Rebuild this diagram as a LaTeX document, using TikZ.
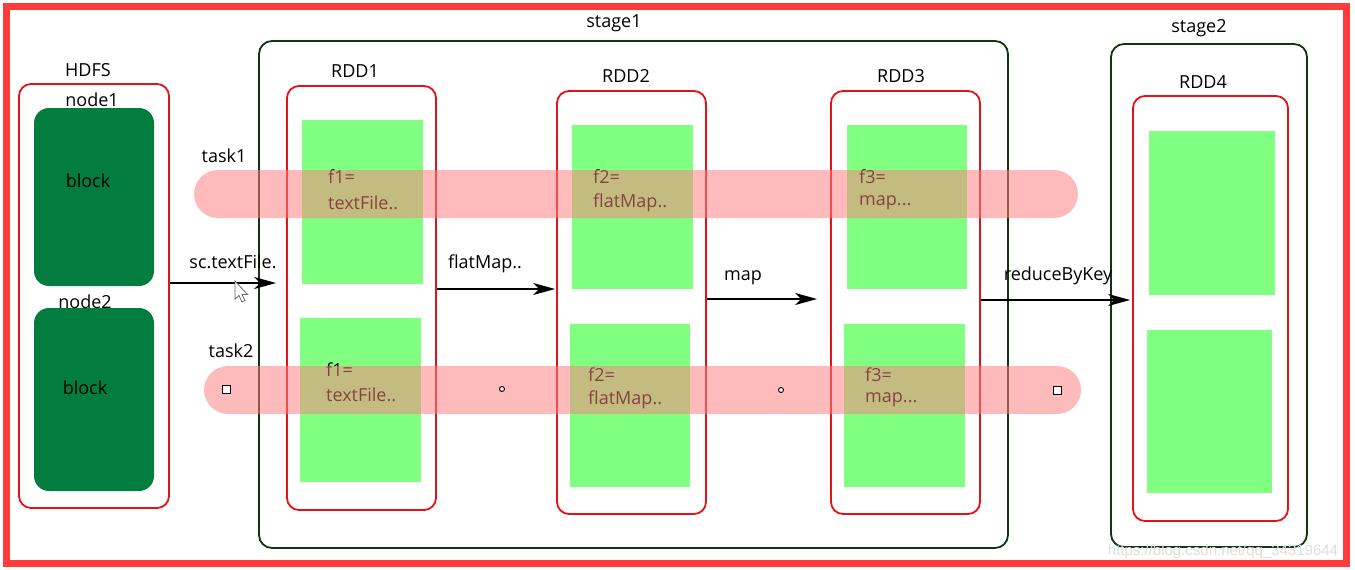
\documentclass[tikz,border=0pt]{standalone}
\usepackage{fontspec}
\setmainfont{Open Sans}
\newfontfamily\wmfont{Liberation Sans}
\usetikzlibrary{arrows.meta}
\definecolor{outred}{RGB}{255,59,59}
\definecolor{boxred}{RGB}{228,18,22}
\definecolor{stgreen}{RGB}{15,55,15}
\definecolor{blkgreen}{RGB}{3,125,63}
\definecolor{ltgreen}{RGB}{128,255,128}
\definecolor{pillred}{RGB}{255,128,128}
\newcommand\dgmfont{\fontsize{18}{22}\selectfont}
\begin{document}
\begin{tikzpicture}[x=1pt,y=-1pt,
  every node/.append style={font=\dgmfont},
  redbox/.style={draw=boxred, line width=1.8pt, rounded corners=12pt, inner sep=0pt},
  stagebox/.style={draw=stgreen, line width=1.8pt, rounded corners=13pt, inner sep=0pt},
  blockbox/.style={fill=blkgreen, rounded corners=15pt, inner sep=0pt},
  part/.style={fill=ltgreen, inner sep=0pt},
  pill/.style={fill=pillred, fill opacity=0.53, rounded corners=24pt, inner sep=0pt, minimum height=48pt},
  lbl/.style={inner sep=0pt},
  ptxt/.style={anchor=west, inner sep=0pt},
  arr/.style={-{Stealth[length=22pt,width=12pt,inset=6pt]}, line width=2pt},
  handle/.style={draw=black, fill=white, line width=0.9pt, inner sep=0pt}
]
\useasboundingbox[fill=white] (0,0) rectangle (1355,570);
\draw[outred, line width=7pt] (6.5,6.5) rectangle (1346.5,563.5);

% HDFS
\node[redbox, minimum width=150pt, minimum height=424pt] (hdfs) at (94,296) {};
\node[lbl] (hdfsl) at (88,70) {HDFS};
\node[lbl] (n1l) at (92,100) {node1};
\node[blockbox, minimum width=120pt, minimum height=178pt] (blk1) at (94,197) {};
\node[lbl] (b1l) at (88,181) {block};
\node[lbl] (n2l) at (85,302) {node2};
\node[blockbox, minimum width=120pt, minimum height=183pt] (blk2) at (94,399.5) {};
\node[lbl] (b2l) at (85,388) {block};

% stages
\node[stagebox, minimum width=749pt, minimum height=507pt] (stage1) at (633.5,294.5) {};
\node[lbl] (s1l) at (614,23) {stage1};
\node[stagebox, minimum width=196pt, minimum height=503pt] (stage2) at (1209,295.5) {};
\node[lbl] (s2l) at (1199,28) {stage2};

% RDDs
\node[redbox, minimum width=149pt, minimum height=424pt] (rdd1) at (361.5,298) {};
\node[lbl] (r1l) at (355,71) {RDD1};
\node[redbox, minimum width=149pt, minimum height=423pt] (rdd2) at (631.5,302.5) {};
\node[lbl] (r2l) at (626,76) {RDD2};
\node[redbox, minimum width=149pt, minimum height=423pt] (rdd3) at (905.5,302.5) {};
\node[lbl] (r3l) at (901,76) {RDD3};
\node[redbox, minimum width=155pt, minimum height=425pt] (rdd4) at (1210.5,308.5) {};
\node[lbl] (r4l) at (1203,82) {RDD4};

% partitions
\node[part, minimum width=121pt, minimum height=164pt] (g1a) at (362.5,202) {};
\node[part, minimum width=121pt, minimum height=164pt] (g1b) at (360.5,400) {};
\node[part, minimum width=121pt, minimum height=164pt] (g2a) at (632.5,207) {};
\node[part, minimum width=120pt, minimum height=163pt] (g2b) at (630,405.5) {};
\node[part, minimum width=120pt, minimum height=164pt] (g3a) at (907,207) {};
\node[part, minimum width=121pt, minimum height=163pt] (g3b) at (904.5,405.5) {};
\node[part, minimum width=126pt, minimum height=164pt] (g4a) at (1212,213) {};
\node[part, minimum width=125pt, minimum height=163pt] (g4b) at (1209.5,411.5) {};

% functions
\node[ptxt] (t1a) at (328,177) {f1=};
\node[ptxt] (t1b) at (328,203) {textFile..};
\node[ptxt] (t2a) at (593,177) {f2=};
\node[ptxt] (t2b) at (593,203) {flatMap..};
\node[ptxt] (t3a) at (859,177) {f3=};
\node[ptxt] (t3b) at (859,203) {map...};
\node[ptxt] (u1a) at (326,370) {f1=};
\node[ptxt] (u1b) at (326,395) {textFile..};
\node[ptxt] (u2a) at (588,375) {f2=};
\node[ptxt] (u2b) at (588,400) {flatMap..};
\node[ptxt] (u3a) at (865,375) {f3=};
\node[ptxt] (u3b) at (865,400) {map...};

% tasks
\node[lbl] (task1l) at (224,156) {task1};
\node[lbl] (task2l) at (231,351) {task2};
\node[pill, minimum width=884pt] (task1) at (636,194) {};
\node[pill, minimum width=877pt] (task2) at (642.5,390) {};
\node[handle, minimum size=8pt] (h1) at (226,389) {};
\node[handle, minimum size=8pt] (h2) at (1057,390) {};
\node[handle, circle, minimum size=5pt] (h3) at (502,389) {};
\node[handle, circle, minimum size=5pt] (h4) at (781,390) {};

% arrows
\draw[arr, shorten >=10pt] (hdfs.east |- 0,283) -- (rdd1.west |- 0,283);
\node[lbl] (a1l) at (233,262) {sc.textFile.};
\draw[arr, shorten >=1pt] (rdd1.east |- 0,289) -- (rdd2.west |- 0,289);
\node[lbl] (a2l) at (485,264) {flatMap..};
\draw[arr, shorten >=13pt] (rdd2.east |- 0,299) -- (rdd3.west |- 0,299);
\node[lbl] (a3l) at (743,278) {map};
\draw[arr, shorten >=2pt] (rdd3.east |- 0,300) -- (rdd4.west |- 0,300);
\node[lbl] (a4l) at (1058,276) {reduceByKey};

% cursor
\draw[fill=white, draw=black!60, line width=0.8pt] (235,281) -- (235,299) -- (239,295.5) -- (242,302) -- (245,300.5) -- (242,294.5) -- (247.5,294.5) -- cycle;

% watermark
\node[lbl, font=\wmfont\fontsize{15}{18}\selectfont, text=black!13] (wm) at (1223,552) {https://blog.csdn.net/qq\_34319644};
\end{tikzpicture}
\end{document}
